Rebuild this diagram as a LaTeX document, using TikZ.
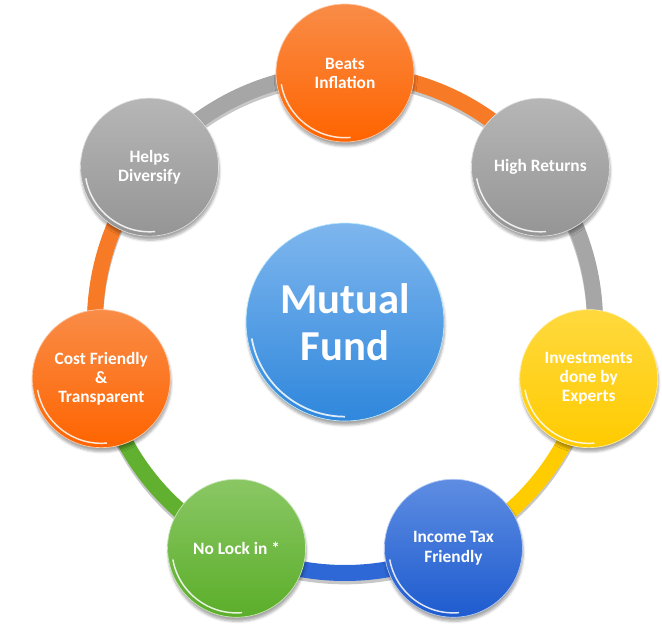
\documentclass[tikz,border=0pt]{standalone}
\usepackage{fontspec}
\setmainfont{Carlito}
\usepackage{xcolor}
\definecolor{orangeTop}{HTML}{F98C47}
\definecolor{orangeBot}{HTML}{FF6400}
\definecolor{grayTop}{HTML}{B6B6B6}
\definecolor{grayBot}{HTML}{959595}
\definecolor{yellowTop}{HTML}{FFD93E}
\definecolor{yellowBot}{HTML}{FFCB00}
\definecolor{blueTop}{HTML}{5E8DE2}
\definecolor{blueBot}{HTML}{1E5BCF}
\definecolor{greenTop}{HTML}{8AC764}
\definecolor{greenBot}{HTML}{5BAE2A}
\definecolor{hubTop}{HTML}{7EB6EE}
\definecolor{hubBot}{HTML}{2F87DC}
\definecolor{orangeRing}{HTML}{F77A26}
\definecolor{grayRing}{HTML}{A6A6A6}
\definecolor{yellowRing}{HTML}{FFCC00}
\definecolor{blueRing}{HTML}{2E68D6}
\definecolor{greenRing}{HTML}{62B02F}
\usepackage{tikz}
\usetikzlibrary{
    shadows.blur,
    backgrounds
}
\tikzset{
    % Outer bubbles - glossy circles with gradient
    bubble/.style={
        circle,
        minimum size=103.5pt,
        inner sep=0pt,
        align=center,
        text=white,
        font=\bfseries\fontsize{13}{14.3}\selectfont,
        draw=white!55!#1Top,
        line width=0.5pt,
        top color=#1Top,
        bottom color=#1Bot,
        blur shadow={
            shadow xshift=0.6pt,
            shadow yshift=-3pt,
            shadow blur steps=5,
            shadow opacity=35
        },
        path picture={
            \draw [white, line width=1.1pt, opacity=0.85]
                ([shift={(190:48.5pt)}]path picture bounding box.center)
                arc[start angle=190, end angle=275, radius=48.5pt];
        },
    },
    % Central hub - larger blue circle
    hub/.style={
        bubble=hub,
        minimum size=148.5pt,
        font=\bfseries\fontsize{32}{35}\selectfont,
        draw=cyan!25!white,
        path picture={
            \draw [white, line width=1.3pt, opacity=0.85]
                ([shift={(190:71pt)}]path picture bounding box.center)
                arc[start angle=190, end angle=270, radius=71pt];
        },
    },
    % Ring segments joining the bubbles
    ring/.style={
        line width=12pt,
        looseness=0.9,
        preaction={
            draw=black,
            opacity=0.22,
            line width=12pt,
            transform canvas={yshift=-2.5pt}
        },
    },
}

\begin{document}
\begin{tikzpicture}[x=0.75pt, y=0.75pt]
    \useasboundingbox (-345,-309) rectangle (317,323);

    \node (mutual) [hub] at (0,1) {Mutual\\Fund};
    \node (beats) [bubble=orange] at (90:250) {Beats\\Inflation};
    \node (returns) [bubble=gray] at (38.57:250) {High Returns};
    \node (experts) [bubble=yellow] at (-12.86:250) {Investments\\done by\\Experts};
    \node (tax) [bubble=blue] at (-64.29:250) {Income Tax\\Friendly};
    \node (nolock) [bubble=green] at (-115.71:250) {No Lock in *};
    \node (cost) [bubble=orange] at (-167.14:250) {Cost Friendly\\\&\\Transparent};
    \node (diversify) [bubble=gray] at (141.43:250) {Helps\\Diversify};

    \begin{scope}[on background layer]
        \draw [ring, draw=orangeRing] (beats.center) to[bend left=25.7] (returns.center);
        \draw [ring, draw=grayRing] (returns.center) to[bend left=25.7] (experts.center);
        \draw [ring, draw=yellowRing] (experts.center) to[bend left=25.7] (tax.center);
        \draw [ring, draw=blueRing] (tax.center) to[bend left=25.7] (nolock.center);
        \draw [ring, draw=greenRing] (nolock.center) to[bend left=25.7] (cost.center);
        \draw [ring, draw=orangeRing] (cost.center) to[bend left=25.7] (diversify.center);
        \draw [ring, draw=grayRing] (diversify.center) to[bend left=25.7] (beats.center);
    \end{scope}
\end{tikzpicture}
\end{document}
